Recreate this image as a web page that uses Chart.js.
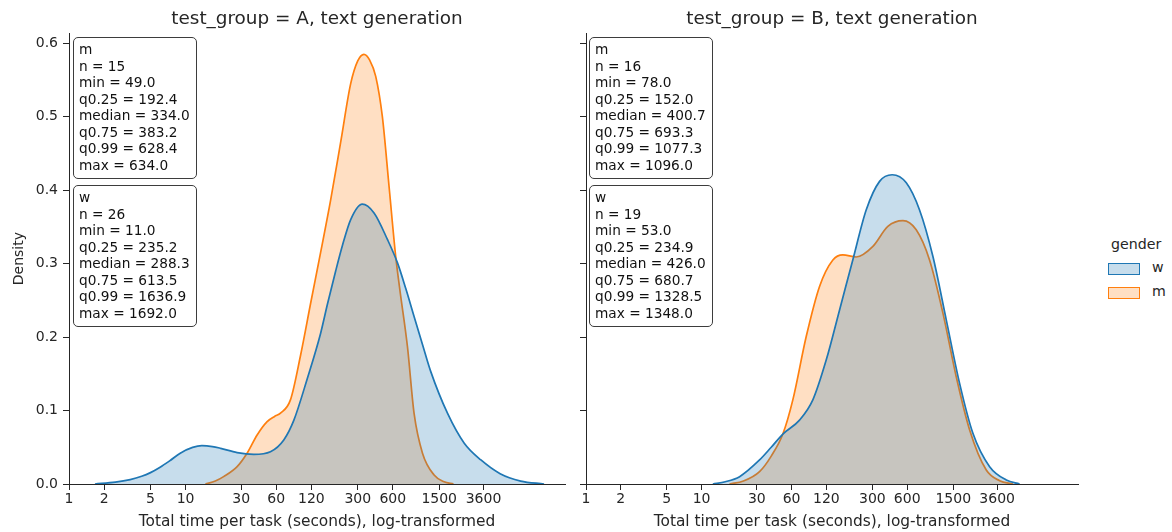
<!DOCTYPE html>
<html><head><meta charset="utf-8">
<script src="https://cdn.jsdelivr.net/npm/chart.js@4.4.1/dist/chart.umd.min.js"></script>
<style>
html,body{margin:0;padding:0;background:#fff;}
#wrap{position:relative;width:1172px;height:532px;overflow:hidden;font-family:"DejaVu Sans",sans-serif;color:#262626;}
canvas{position:absolute;top:0;}
.box{position:absolute;box-sizing:border-box;width:124px;height:142px;border:1.3px solid #3d3d3d;border-radius:5px;background:rgba(255,255,255,0.85);font-size:13.7px;line-height:16.55px;padding:3px 0 0 5px;white-space:pre;color:#111;}
#legend{position:absolute;left:1100px;top:236px;width:72px;font-size:14.2px;color:#262626;}
#legend .t{position:absolute;left:11px;top:0;white-space:nowrap;}
#legend .item{position:absolute;left:8px;white-space:nowrap;}
#legend .sw{position:absolute;left:0;top:0;width:32px;height:12px;box-sizing:border-box;border:1.5px solid;}
#legend .lb{position:absolute;left:44px;top:-4px;}
</style></head>
<body><div id="wrap">
<canvas id="cA" width="575" height="532" style="left:0px"></canvas>
<canvas id="cB" width="528" height="532" style="left:560px"></canvas>
<div class="box" id="bAm" style="left:73px;top:37px"></div>
<div class="box" id="bAw" style="left:73px;top:185px"></div>
<div class="box" id="bBm" style="left:589px;top:37px"></div>
<div class="box" id="bBw" style="left:589px;top:185px"></div>
<div id="legend"></div>
</div>
<script>
// ---- data (seconds on x, density on y) ----
const panelTitles = ["test_group = A, text generation", "test_group = B, text generation"];
const genders = ["w", "m"];
const xTickValues = [1, 2, 5, 10, 30, 60, 120, 300, 600, 1500, 3600];
const yTickValues = [0, 0.1, 0.2, 0.3, 0.4, 0.5, 0.6];

const aW_t = [1.67, 2.5, 3.35, 4.2, 5.0, 6.0, 7.3, 9.0, 11.5, 13.8, 17, 20, 27.7, 38.5, 53.5, 69.6, 85, 110, 144, 165, 194, 222, 261, 328, 414, 539, 658, 775, 913, 1078, 1270, 1770, 2460, 3420, 5000, 7500, 11900];
const aW_d = [0, 0.0025, 0.006, 0.0105, 0.0155, 0.0225, 0.0315, 0.042, 0.0498, 0.0522, 0.0510, 0.0486, 0.0427, 0.0404, 0.044, 0.06, 0.087, 0.142, 0.205, 0.245, 0.29, 0.325, 0.36, 0.381, 0.369, 0.333, 0.301, 0.266, 0.228, 0.19, 0.153, 0.096, 0.0555, 0.0327, 0.014, 0.004, 0];
const aM_t = [14.8, 18, 21.2, 27.7, 33.7, 41.1, 50.1, 58, 65.2, 79.4, 96.9, 118, 144, 175, 214, 261, 300, 339, 380, 428, 488, 557, 635, 690, 801, 913, 1078, 1356, 1650, 1990];
const aM_d = [0, 0.004, 0.01, 0.0236, 0.0418, 0.0668, 0.085, 0.092, 0.0964, 0.1145, 0.175, 0.245, 0.315, 0.385, 0.465, 0.545, 0.576, 0.585, 0.577, 0.555, 0.50, 0.405, 0.31, 0.264, 0.187, 0.096, 0.042, 0.0123, 0.003, 0];
const bW_t = [12.5, 16, 21.3, 31.7, 40, 50.4, 70.3, 91.6, 119.7, 156, 203, 265, 346, 445, 589, 767, 1000, 1306, 1703, 2220, 3097, 4318, 5625];
const bW_d = [0, 0.003, 0.01, 0.0327, 0.05, 0.068, 0.087, 0.1145, 0.169, 0.237, 0.305, 0.373, 0.412, 0.421, 0.41, 0.373, 0.31, 0.2235, 0.137, 0.069, 0.0236, 0.0055, 0];
const bM_t = [17.4, 23, 31.7, 40, 50.4, 61.5, 80.3, 104.7, 136.5, 166.6, 217, 303, 408, 551, 718, 936, 1222, 1593, 2080, 2897, 3776, 4923];
const bM_d = [0, 0.004, 0.0168, 0.038, 0.068, 0.1145, 0.2008, 0.269, 0.305, 0.312, 0.309, 0.3235, 0.3507, 0.3585, 0.346, 0.305, 0.2326, 0.146, 0.0736, 0.019, 0.0045, 0];

const statsAm = ["m", "n = 15", "min = 49.0", "q0.25 = 192.4", "median = 334.0", "q0.75 = 383.2", "q0.99 = 628.4", "max = 634.0"];
const statsAw = ["w", "n = 26", "min = 11.0", "q0.25 = 235.2", "median = 288.3", "q0.75 = 613.5", "q0.99 = 1636.9", "max = 1692.0"];
const statsBm = ["m", "n = 16", "min = 78.0", "q0.25 = 152.0", "median = 400.7", "q0.75 = 693.3", "q0.99 = 1077.3", "max = 1096.0"];
const statsBw = ["w", "n = 19", "min = 53.0", "q0.25 = 234.9", "median = 426.0", "q0.75 = 680.7", "q0.99 = 1328.5", "max = 1348.0"];

const xLabel = "Total time per task (seconds), log-transformed";
const yLabel = "Density";
const legendTitle = "gender";

// ---- styling ----
const FONT = '"DejaVu Sans", sans-serif';
const INK = '#262626';
const colors = { w: '#1f77b4', m: '#ff7f0e' };
const fills = { w: 'rgba(31,119,180,0.25)', m: 'rgba(255,127,14,0.25)' };

function pts(ts, ds) { return ts.map((t, i) => ({ x: t, y: ds[i] })); }

function ds(g, ts, d) {
  return {
    label: g, data: pts(ts, d),
    borderColor: colors[g], backgroundColor: fills[g], borderWidth: 1.7,
    fill: 'origin', pointRadius: 0, cubicInterpolationMode: 'monotone'
  };
}

function makePanel(id, title, wT, wD, mT, mD, yWidth, showYLabels) {
  return new Chart(document.getElementById(id), {
    type: 'line',
    data: { datasets: [ds('w', wT, wD), ds('m', mT, mD)] },
    options: {
      responsive: false, animation: false,
      layout: { padding: { left: 0, right: 10, top: 0, bottom: 0 } },
      plugins: {
        legend: { display: false }, tooltip: { enabled: false },
        title: { display: true, text: title, fullSize: false, color: INK,
          font: { family: FONT, size: 18.4, weight: 'normal' }, padding: { top: 8, bottom: 3.2 } }
      },
      scales: {
        x: {
          type: 'logarithmic', min: 1, max: 18000,
          afterBuildTicks: s => { s.ticks = xTickValues.map(v => ({ value: v })); },
          afterFit: s => { s.height = 48; },
          ticks: { autoSkip: false, maxRotation: 0, color: INK, padding: 1,
            font: { family: FONT, size: 14 }, callback: v => String(v) },
          grid: { display: true, drawOnChartArea: false, drawTicks: true, tickLength: 6, color: INK, tickWidth: 1 },
          border: { display: true, color: INK, width: 1 },
          title: { display: true, text: xLabel, color: INK, font: { family: FONT, size: 15.4 }, padding: { top: 0, bottom: 1 } }
        },
        y: {
          type: 'linear', min: 0, max: 0.6136,
          afterBuildTicks: s => { s.ticks = yTickValues.map(v => ({ value: v })); },
          afterFit: s => { s.width = yWidth; },
          ticks: { display: showYLabels, color: INK, padding: 5, font: { family: FONT, size: 14 },
            callback: v => Number(v).toFixed(1) },
          grid: { display: true, drawOnChartArea: false, drawTicks: true, tickLength: 6, color: INK, tickWidth: 1 },
          border: { display: true, color: INK, width: 1 },
          title: { display: showYLabels, text: yLabel, color: INK, font: { family: FONT, size: 14 }, padding: { top: 10.6, bottom: 0 } }
        }
      }
    }
  });
}

makePanel('cA', panelTitles[0], aW_t, aW_d, aM_t, aM_d, 69, true);
makePanel('cB', panelTitles[1], bW_t, bW_d, bM_t, bM_d, 26, false);

// stats boxes
[['bAm', statsAm], ['bAw', statsAw], ['bBm', statsBm], ['bBw', statsBw]].forEach(([id, lines]) => {
  document.getElementById(id).textContent = lines.join('\n');
});

// legend
const leg = document.getElementById('legend');
const t = document.createElement('div'); t.className = 't'; t.textContent = legendTitle; leg.appendChild(t);
genders.forEach((g, i) => {
  const it = document.createElement('div'); it.className = 'item'; it.style.top = (27 + i * 24) + 'px';
  const sw = document.createElement('div'); sw.className = 'sw'; sw.style.borderColor = colors[g]; sw.style.background = fills[g];
  const lb = document.createElement('div'); lb.className = 'lb'; lb.textContent = g;
  it.appendChild(sw); it.appendChild(lb); leg.appendChild(it);
});
</script>
</body></html>
